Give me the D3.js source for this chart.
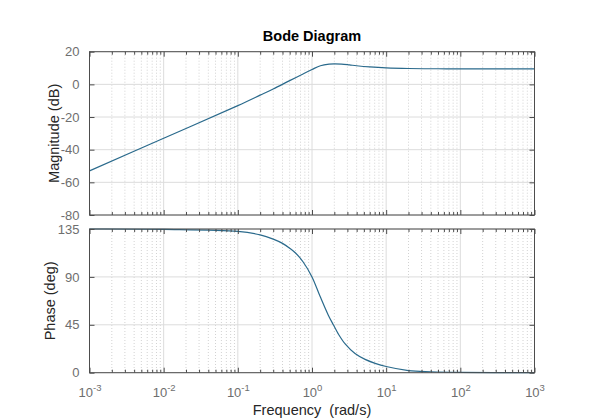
<!DOCTYPE html>
<html>
<head>
<meta charset="utf-8">
<script src="https://cdn.jsdelivr.net/npm/d3@7"></script>
<style>
  body { margin: 0; background: #fff; }
  svg { font-family: "Liberation Sans", Arial, sans-serif; }
  .tick text { fill: #6e6e6e; font-size: 13px; }
  .tick line { stroke: #4d4d4d; }
</style>
</head>
<body>
<script>
// values
var freqTicks = [1e-3, 1e-2, 1e-1, 1e0, 1e1, 1e2, 1e3];
var freqExps = ["-3", "-2", "-1", "0", "1", "2", "3"];
var magTicks = [20, 0, -20, -40, -60, -80];
var phaseTicks = [0, 45, 90, 135];

var magOmega = [0.001, 0.01, 0.1, 0.2, 0.3, 0.5, 0.7, 1.0, 1.3, 1.7, 2.0, 2.5, 3.2, 4, 6, 10, 20, 50, 100, 1000];
var magDb    = [-53, -33, -13, -6.6, -2.8, 2.3, 5.6, 9.1, 11.4, 12.4, 12.6, 12.4, 11.9, 11.4, 10.7, 10.1, 9.7, 9.55, 9.5, 9.5];

var phaseOmega = [0.001, 0.01, 0.1, 0.2, 0.3, 0.4, 0.5, 0.6, 0.76, 1.0, 1.28, 1.66, 1.94, 2.26, 2.8, 3.8, 5.2, 7.1, 10, 20, 40, 100, 1000];
var phaseDeg   = [135, 134.7, 132.8, 129.5, 125.5, 121.5, 117, 112.5, 104, 90, 72, 54, 45, 36.5, 27, 18, 12.5, 8.8, 5.8, 2, 0.9, 0.3, 0];

var W = 591, H = 420;
var left = 89.5, right = 534.5;

var svg = d3.select("body").append("svg")
    .attr("width", W)
    .attr("height", H);

var x = d3.scaleLog().domain([1e-3, 1e3]).range([left, right]);

var minor = [];
freqTicks.slice(0, -1).forEach(function(d) {
  for (var k = 2; k <= 9; k++) minor.push(k * d);
});

function panel(top, bottom, yDomain, yTicks, omega, vals, label, labelX, showX) {
  var y = d3.scaleLinear().domain(yDomain).range([bottom, top]);
  var h = bottom - top;
  var g = svg.append("g");

  // minor grid (dotted)
  g.selectAll(".mgrid").data(minor).enter().append("line")
      .attr("x1", function(d) { return x(d); })
      .attr("x2", function(d) { return x(d); })
      .attr("y1", top).attr("y2", bottom)
      .attr("stroke", "#d2d2d2")
      .attr("stroke-dasharray", "1,2");

  // major grid
  g.selectAll(".vgrid").data(freqTicks).enter().append("line")
      .attr("x1", function(d) { return x(d); })
      .attr("x2", function(d) { return x(d); })
      .attr("y1", top).attr("y2", bottom)
      .attr("stroke", "#dcdcdc");
  g.selectAll(".hgrid").data(yTicks).enter().append("line")
      .attr("x1", left).attr("x2", right)
      .attr("y1", function(d) { return y(d); })
      .attr("y2", function(d) { return y(d); })
      .attr("stroke", "#dcdcdc");

  // curve
  var pts = omega.map(function(w, i) { return [w, vals[i]]; });
  g.append("path")
      .datum(pts)
      .attr("fill", "none")
      .attr("stroke", "#2a6a8c")
      .attr("stroke-width", 1.2)
      .attr("d", d3.line()
          .x(function(d) { return x(d[0]); })
          .y(function(d) { return y(d[1]); })
          .curve(d3.curveCatmullRom.alpha(0.5)));

  // ticks, all pointing inward
  var axB = g.append("g").attr("transform", "translate(0," + bottom + ")")
      .call(d3.axisBottom(x).tickValues(freqTicks).tickSize(-5).tickFormat(""));
  g.append("g").attr("transform", "translate(0," + bottom + ")")
      .call(d3.axisBottom(x).tickValues(minor).tickSize(-3).tickFormat(""));
  g.append("g").attr("transform", "translate(0," + top + ")")
      .call(d3.axisTop(x).tickValues(freqTicks).tickSize(-5).tickFormat(""));
  g.append("g").attr("transform", "translate(0," + top + ")")
      .call(d3.axisTop(x).tickValues(minor).tickSize(-3).tickFormat(""));
  g.append("g").attr("transform", "translate(" + left + ",0)")
      .call(d3.axisLeft(y).tickValues(yTicks).tickSize(-5).tickPadding(10)
          .tickFormat(function(d) { return String(d); }));
  g.append("g").attr("transform", "translate(" + right + ",0)")
      .call(d3.axisRight(y).tickValues(yTicks).tickSize(-5).tickFormat(""));
  g.selectAll(".domain").remove();

  if (showX) {
    axB.selectAll(".tick").append("text")
        .attr("y", 24)
        .attr("text-anchor", "middle")
        .each(function(d, i) {
          var t = d3.select(this);
          t.append("tspan").text("10");
          t.append("tspan").attr("dy", -6).attr("font-size", "9.5px").text(freqExps[i]);
        });
  }

  // box
  g.append("rect")
      .attr("x", left).attr("y", top)
      .attr("width", right - left).attr("height", h)
      .attr("fill", "none")
      .attr("stroke", "#4d4d4d");

  svg.append("text")
      .attr("transform", "translate(" + labelX + "," + (top + h / 2) + ") rotate(-90)")
      .attr("text-anchor", "middle")
      .attr("font-size", "14.5px")
      .attr("fill", "#262626")
      .text(label);
}

panel(51.7, 215, [-80, 20], magTicks, magOmega, magDb, "Magnitude (dB)", 59, false);
panel(229, 372.7, [0, 135], phaseTicks, phaseOmega, phaseDeg, "Phase (deg)", 55, true);

svg.append("text")
    .attr("x", (left + right) / 2)
    .attr("y", 41)
    .attr("text-anchor", "middle")
    .attr("font-size", "14.5px")
    .attr("font-weight", "bold")
    .attr("fill", "#000")
    .text("Bode Diagram");

svg.append("text")
    .attr("x", (left + right) / 2)
    .attr("y", 415)
    .attr("text-anchor", "middle")
    .attr("font-size", "14.5px")
    .attr("fill", "#262626")
    .style("white-space", "pre")
    .text("Frequency  (rad/s)");
</script>
</body>
</html>
